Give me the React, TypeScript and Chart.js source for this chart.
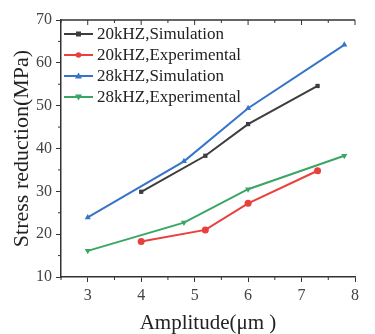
import React, { useEffect, useRef } from "react";
import { Chart, registerables } from "chart.js";

Chart.register(...registerables);

const seriesLabels = [
  "20kHZ,Simulation",
  "20kHZ,Experimental",
  "28kHZ,Simulation",
  "28kHZ,Experimental",
];
const sim20X = [4, 5.2, 6, 7.3];
const sim20Y = [29.9, 38.3, 45.7, 54.6];
const exp20X = [4, 5.2, 6, 7.3];
const exp20Y = [18.3, 21.0, 27.2, 34.8];
const sim28X = [3, 4.8, 6, 7.8];
const sim28Y = [23.9, 37.0, 49.4, 64.2];
const exp28X = [3, 4.8, 6, 7.8];
const exp28Y = [16.1, 22.7, 30.5, 38.3];
const xTickValues = [3, 4, 5, 6, 7, 8];
const yTickValues = [10, 20, 30, 40, 50, 60, 70];

const AXIS = "#333333";
const FONT = "'Liberation Serif', 'Times New Roman', serif";

const colors = ["#3d3d3d", "#e8403c", "#3574c6", "#3aa565"];
const markers = ["rect", "circle", "triangle", "triangle"];
const rotations = [0, 0, 0, 180];

const pts = (xs: number[], ys: number[]) => xs.map((x, i) => ({ x, y: ys[i] }));

const frameAndLegend = {
  id: "frameAndLegend",
  afterDraw(chart: any) {
    const ctx = chart.ctx;
    const { left, right, top, bottom } = chart.chartArea;
    const xs = chart.scales.x;
    const ys = chart.scales.y;
    ctx.save();
    ctx.strokeStyle = AXIS;
    ctx.lineWidth = 1.5;
    ctx.beginPath();
    ctx.moveTo(left, top);
    ctx.lineTo(right, top);
    ctx.stroke();
    ctx.lineWidth = 1;
    for (let v = 2.5; v <= 8.001; v += 0.5) {
      const px = xs.getPixelForValue(v);
      const major = Math.abs(v - Math.round(v)) < 0.01;
      if (!major) {
        ctx.beginPath();
        ctx.moveTo(px, bottom);
        ctx.lineTo(px, bottom + 3);
        ctx.stroke();
      }
      ctx.beginPath();
      ctx.moveTo(px, top);
      ctx.lineTo(px, top + (major ? 5 : 3));
      ctx.stroke();
    }
    for (let v = 15; v < 70; v += 10) {
      const py = ys.getPixelForValue(v);
      ctx.beginPath();
      ctx.moveTo(left, py);
      ctx.lineTo(left - 3, py);
      ctx.stroke();
    }
    ctx.font = `17px ${FONT}`;
    ctx.textBaseline = "middle";
    chart.data.datasets.forEach((ds: any, i: number) => {
      const y = top + 14 + i * 21;
      const x0 = left + 3;
      ctx.strokeStyle = colors[i];
      ctx.lineWidth = 2;
      ctx.beginPath();
      ctx.moveTo(x0, y);
      ctx.lineTo(x0 + 29, y);
      ctx.stroke();
      ctx.fillStyle = colors[i];
      const cx = x0 + 14.5;
      if (i === 0) {
        ctx.fillRect(cx - 2.5, y - 2.5, 5, 5);
      } else if (i === 1) {
        ctx.beginPath();
        ctx.arc(cx, y, 2.8, 0, Math.PI * 2);
        ctx.fill();
      } else if (i === 2) {
        ctx.beginPath();
        ctx.moveTo(cx, y - 3.5);
        ctx.lineTo(cx + 3.5, y + 2.5);
        ctx.lineTo(cx - 3.5, y + 2.5);
        ctx.closePath();
        ctx.fill();
      } else {
        ctx.beginPath();
        ctx.moveTo(cx, y + 3.5);
        ctx.lineTo(cx + 3.5, y - 2.5);
        ctx.lineTo(cx - 3.5, y - 2.5);
        ctx.closePath();
        ctx.fill();
      }
      ctx.fillStyle = "#222";
      ctx.fillText(ds.label, x0 + 33, y + 1);
    });
    ctx.restore();
  },
};

export default function App() {
  const ref = useRef<HTMLCanvasElement>(null);
  useEffect(() => {
    document.body.style.margin = "0";
    const data = [pts(sim20X, sim20Y), pts(exp20X, exp20Y), pts(sim28X, sim28Y), pts(exp28X, exp28Y)];
    const chart = new Chart(ref.current!, {
      type: "line",
      data: {
        datasets: data.map((d, i) => ({
          label: seriesLabels[i],
          data: d,
          borderColor: colors[i],
          backgroundColor: colors[i],
          borderWidth: 2,
          pointStyle: markers[i] as any,
          rotation: rotations[i],
          pointRadius: i === 0 ? 3 : 3.5,
          pointBorderWidth: 0,
          tension: 0,
        })),
      },
      options: {
        animation: false,
        responsive: false,
        layout: { padding: { top: 20, right: 20, left: 0, bottom: 0 } },
        plugins: { legend: { display: false }, tooltip: { enabled: false } },
        scales: {
          x: {
            type: "linear",
            min: 2.5,
            max: 8,
            afterBuildTicks: (s: any) => {
              s.ticks = xTickValues.map((v) => ({ value: v }));
            },
            afterFit: (s: any) => {
              s.height = 57;
            },
            grid: { drawOnChartArea: false, drawTicks: true, tickLength: 5, color: AXIS, lineWidth: 1 },
            border: { display: true, color: AXIS, width: 1.5 },
            ticks: { color: "#444", font: { family: FONT, size: 16 }, padding: 4 },
            title: {
              display: true,
              text: "Amplitude(μm )",
              color: "#222",
              font: { family: FONT, size: 21, lineHeight: 1 },
              padding: { top: 0, bottom: 0 },
            },
          },
          y: {
            type: "linear",
            min: 10,
            max: 70,
            afterBuildTicks: (s: any) => {
              s.ticks = yTickValues.map((v) => ({ value: v }));
            },
            afterFit: (s: any) => {
              s.width = 61;
            },
            grid: { drawOnChartArea: false, drawTicks: true, tickLength: 5, color: AXIS, lineWidth: 1 },
            border: { display: true, color: AXIS, width: 1.5 },
            ticks: { color: "#444", font: { family: FONT, size: 16 }, padding: 4 },
            title: {
              display: true,
              text: "Stress reduction(MPa)",
              color: "#222",
              font: { family: FONT, size: 22, lineHeight: 1 },
              padding: { top: 11, bottom: 0 },
            },
          },
        },
      },
      plugins: [frameAndLegend],
    });
    return () => chart.destroy();
  }, []);
  return (
    <div style={{ position: "absolute", left: 0, top: 0, width: 375, height: 334 }}>
      <canvas ref={ref} width={375} height={334} style={{ width: 375, height: 334 }} />
    </div>
  );
}
